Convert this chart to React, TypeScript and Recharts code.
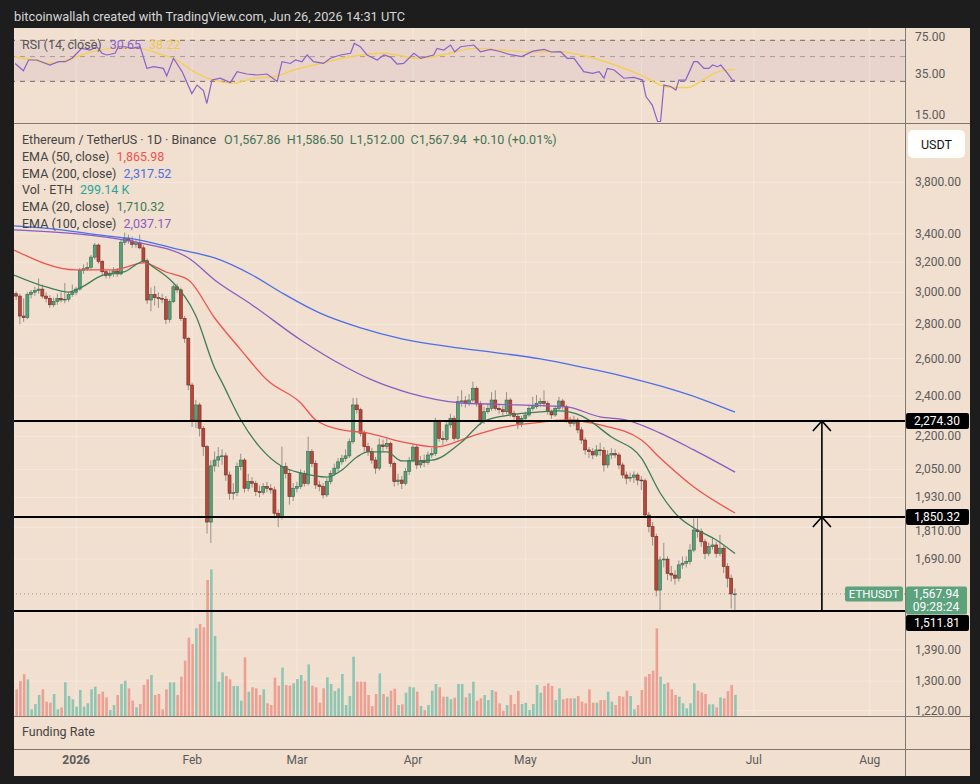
import React from 'react';
import {
  ComposedChart,
  Bar,
  Line,
  XAxis,
  YAxis,
  CartesianGrid,
  ReferenceLine,
  ReferenceArea,
  ReferenceDot,
  Cell,
} from 'recharts';

// day 0 = 1 Jan 2026, first candle is 16 Dec 2025
const FIRST_DAY = -16;
const X_DOMAIN: [number, number] = [-16.6, 221.4];

const opens = [
  2990, 2975, 2850, 2840, 2985, 3000, 3010, 3020, 2975, 2960,
  2920, 2940, 2960, 2950, 2955, 2985, 3000, 3020, 3145, 3155,
  3165, 3235, 3320, 3205, 3135, 3110, 3125, 3140, 3120, 3340,
  3370, 3350, 3325, 3335, 3300, 3210, 2950, 2985, 2965, 2960,
  2955, 2830, 2940, 3035, 3015, 2835, 2717, 2457, 2279, 2354,
  2239, 2152, 1830, 2065, 2091, 2106, 2110, 2025, 1947, 1950,
  2062, 2091, 1968, 1996, 1989, 1954, 1950, 1975, 1968, 1961,
  1865, 1850, 2062, 2032, 1933, 1968, 1975, 2032, 1989, 2129,
  2076, 1982, 1975, 1940, 1996, 2032, 2055, 2083, 2098, 2110,
  2175, 2354, 2330, 2215, 2152, 2129, 2091, 2055, 2160, 2152,
  2167, 2076, 1996, 2003, 1989, 2040, 2090, 2150, 2069, 2084,
  2080, 2114, 2121, 2271, 2191, 2185, 2255, 2287, 2191, 2371,
  2375, 2362, 2379, 2440, 2362, 2271, 2320, 2337, 2379, 2337,
  2330, 2320, 2379, 2312, 2296, 2263, 2287, 2304, 2337, 2345,
  2362, 2371, 2362, 2320, 2304, 2337, 2374, 2345, 2279, 2263,
  2279, 2231, 2183, 2137, 2129, 2114, 2137, 2135, 2069, 2114,
  2120, 2114, 2069, 2025, 2011, 2015, 2025, 2003, 2000, 1858,
  1812, 1774, 1581, 1687, 1690, 1639, 1633, 1622, 1669, 1675,
  1681, 1723, 1799, 1793, 1754, 1711, 1736, 1742, 1711, 1730,
  1663, 1622, 1567.86,
];

const highs = [
  3005, 2990, 2960, 3000, 3015, 3035, 3090, 3050, 3000, 2980,
  2965, 2990, 3000, 3060, 2998, 3050, 3035, 3160, 3185, 3200,
  3250, 3335, 3330, 3215, 3150, 3145, 3165, 3160, 3360, 3410,
  3395, 3380, 3355, 3395, 3320, 3225, 3030, 3040, 3000, 2990,
  2975, 2955, 3050, 3055, 3030, 2850, 2725, 2470, 2380, 2365,
  2250, 2160, 2090, 2130, 2150, 2140, 2125, 2040, 1990, 2080,
  2120, 2100, 2030, 2015, 2000, 1980, 1990, 1995, 1985, 1975,
  1880, 2152, 2080, 2045, 1990, 1995, 2050, 2045, 2199, 2140,
  2090, 2000, 1990, 2010, 2045, 2075, 2100, 2115, 2140, 2190,
  2390, 2390, 2340, 2230, 2170, 2145, 2105, 2190, 2185, 2190,
  2175, 2085, 2030, 2020, 2055, 2105, 2165, 2160, 2110, 2115,
  2130, 2145, 2290, 2280, 2225, 2275, 2310, 2300, 2400, 2430,
  2400, 2410, 2475, 2450, 2375, 2345, 2360, 2420, 2430, 2360,
  2350, 2420, 2390, 2325, 2310, 2300, 2320, 2355, 2395, 2405,
  2390, 2430, 2375, 2330, 2350, 2395, 2385, 2355, 2295, 2300,
  2290, 2245, 2195, 2150, 2145, 2160, 2170, 2150, 2135, 2145,
  2140, 2125, 2080, 2040, 2035, 2040, 2035, 2020, 2010, 1870,
  1830, 1785, 1700, 1750, 1700, 1665, 1650, 1685, 1700, 1700,
  1745, 1845, 1845, 1805, 1765, 1750, 1770, 1755, 1780, 1740,
  1675, 1635, 1586.5,
];

const lows = [
  2950, 2800, 2815, 2830, 2960, 2975, 2990, 2960, 2935, 2900,
  2905, 2920, 2935, 2930, 2940, 2970, 2980, 3010, 3120, 3140,
  3150, 3220, 3190, 3105, 3090, 3090, 3100, 3100, 3110, 3320,
  3330, 3300, 3300, 3290, 3195, 2925, 2880, 2915, 2900, 2930,
  2800, 2810, 2930, 2995, 2820, 2690, 2430, 2245, 2240, 2200,
  2110, 1785, 1750, 2040, 2060, 2070, 2000, 1920, 1920, 1935,
  2045, 1950, 1955, 1970, 1935, 1930, 1940, 1950, 1945, 1845,
  1810, 1840, 2010, 1900, 1915, 1950, 1965, 1975, 1980, 2060,
  1965, 1955, 1925, 1930, 1985, 2020, 2040, 2070, 2085, 2100,
  2165, 2310, 2200, 2130, 2110, 2075, 2030, 2045, 2130, 2140,
  2060, 1975, 1980, 1965, 1980, 2025, 2080, 2050, 2055, 2060,
  2070, 2100, 2110, 2175, 2160, 2175, 2240, 2180, 2185, 2345,
  2340, 2350, 2370, 2345, 2255, 2260, 2310, 2325, 2325, 2310,
  2300, 2310, 2295, 2270, 2235, 2245, 2275, 2295, 2325, 2335,
  2345, 2345, 2305, 2285, 2295, 2325, 2330, 2265, 2245, 2250,
  2215, 2165, 2115, 2100, 2095, 2105, 2110, 2040, 2055, 2095,
  2100, 2050, 2010, 1985, 1995, 1990, 1980, 1960, 1845, 1790,
  1740, 1560, 1512, 1660, 1615, 1610, 1600, 1610, 1655, 1660,
  1670, 1715, 1770, 1735, 1690, 1700, 1725, 1695, 1700, 1640,
  1590, 1520, 1512,
];

const closes = [
  2975, 2850, 2840, 2985, 3000, 3010, 3020, 2975, 2960, 2920,
  2940, 2960, 2950, 2955, 2985, 3000, 3020, 3145, 3155, 3165,
  3235, 3320, 3205, 3135, 3110, 3125, 3140, 3120, 3340, 3370,
  3350, 3325, 3335, 3300, 3210, 2950, 2985, 2965, 2960, 2955,
  2830, 2940, 3035, 3015, 2835, 2717, 2457, 2279, 2354, 2239,
  2152, 1830, 2065, 2091, 2106, 2110, 2025, 1947, 1950, 2062,
  2091, 1968, 1996, 1989, 1954, 1950, 1975, 1968, 1961, 1865,
  1850, 2062, 2032, 1933, 1968, 1975, 2032, 1989, 2129, 2076,
  1982, 1975, 1940, 1996, 2032, 2055, 2083, 2098, 2110, 2175,
  2354, 2330, 2215, 2152, 2129, 2091, 2055, 2160, 2152, 2167,
  2076, 1996, 2003, 1989, 2040, 2090, 2150, 2069, 2084, 2080,
  2114, 2121, 2271, 2191, 2185, 2255, 2287, 2191, 2371, 2375,
  2362, 2379, 2440, 2362, 2271, 2320, 2337, 2379, 2337, 2330,
  2320, 2379, 2312, 2296, 2263, 2287, 2304, 2337, 2345, 2362,
  2371, 2362, 2320, 2304, 2337, 2374, 2345, 2279, 2263, 2279,
  2231, 2183, 2137, 2129, 2114, 2137, 2135, 2069, 2114, 2120,
  2114, 2069, 2025, 2011, 2015, 2025, 2003, 2000, 1858, 1812,
  1774, 1581, 1687, 1690, 1639, 1633, 1622, 1669, 1675, 1681,
  1723, 1799, 1793, 1754, 1711, 1736, 1742, 1711, 1730, 1663,
  1622, 1568, 1567.94,
];

// volume in thousands of ETH
const volumes = [
  378, 497, 591, 520, 95, 170, 298, 378, 203, 189,
  312, 95, 123, 478, 284, 237, 132, 369, 132, 180,
  378, 416, 312, 345, 265, 85, 156, 298, 454, 501,
  393, 218, 123, 170, 440, 520, 582, 298, 312, 95,
  378, 478, 478, 298, 558, 785, 1112, 1022, 1244, 1305,
  1258, 1930, 2081, 1135, 487, 620, 568, 520, 426, 426,
  218, 832, 345, 407, 393, 298, 378, 180, 156, 544,
  430, 686, 440, 430, 464, 525, 582, 501, 733, 430,
  407, 189, 393, 549, 454, 355, 393, 596, 156, 284,
  842, 487, 487, 487, 298, 142, 312, 605, 312, 274,
  359, 388, 156, 166, 331, 416, 407, 345, 142, 85,
  156, 359, 454, 407, 274, 274, 237, 260, 454, 454,
  265, 322, 487, 218, 251, 298, 227, 369, 345, 180,
  76, 156, 298, 170, 355, 170, 189, 85, 170, 440,
  331, 426, 464, 426, 227, 393, 237, 251, 251, 251,
  284, 203, 180, 378, 189, 189, 227, 227, 345, 203,
  156, 284, 274, 359, 284, 95, 156, 369, 558, 596,
  643, 1244, 558, 454, 473, 378, 298, 274, 180, 109,
  180, 464, 359, 336, 312, 166, 166, 123, 265, 251,
  355, 440, 299.14,
];

// moving averages as [day, value]
const ema20Pts = [
  [-16.6, 3113], [-8, 3034], [-2, 3001], [1, 3027], [7, 3110], [13, 3135], [18, 3205],
  [21, 3160], [26, 3060], [32, 2850], [37, 2549], [39, 2470], [44, 2279], [49, 2151],
  [55, 2062], [60, 2034], [67, 2016], [71, 2047], [75, 2105], [78, 2128], [83, 2128],
  [87, 2087], [95, 2091], [103, 2174], [109, 2274], [116, 2304], [124, 2319], [129, 2324],
  [135, 2299], [143, 2197], [151, 2100], [156, 1948], [161, 1850], [165, 1807], [171, 1761],
  [176, 1710.32],
];
const ema50Pts = [
  [-16.6, 3285], [0, 3147], [10, 3147], [18, 3195], [24, 3133], [30, 3080], [37, 2838],
  [44, 2650], [51, 2484], [60, 2364], [64, 2279], [71, 2231], [78, 2216], [87, 2174],
  [96, 2151], [105, 2197], [113, 2240], [122, 2264], [131, 2279], [140, 2255], [151, 2183],
  [156, 2100], [165, 1973], [176, 1865.98],
];
const ema100Pts = [
  [-16.6, 3430], [17, 3335], [30, 3229], [37, 3080], [47, 2919], [60, 2707], [71, 2565],
  [79, 2484], [89, 2415], [103, 2364], [118, 2354], [131, 2344], [140, 2294], [147, 2279],
  [156, 2216], [165, 2137], [176, 2037.17],
];
const ema200Pts = [
  [-16.6, 3459], [-4, 3430], [6, 3393], [17, 3356], [28, 3285], [37, 3229], [47, 3113],
  [55, 2995], [65, 2869], [76, 2778], [87, 2713], [100, 2667], [113, 2632], [124, 2599],
  [135, 2554], [146, 2505], [156, 2452], [167, 2384], [176, 2317.52],
];

const rsiPts = [
  [-16.3, 43.4], [-14.1, 37.3], [-12.7, 46.6], [-10.5, 46.6], [-7, 42], [-4.7, 45], [-2.9, 45],
  [-1.1, 48.3], [0.6, 55.3], [1.5, 59.3], [3.7, 57.3], [5.5, 61.3], [6.9, 53.6], [8.2, 51.7],
  [10.4, 53.6], [11.3, 61.3], [13.1, 61.3], [14.9, 59.3], [17.1, 61.3], [18.9, 39.2],
  [20.7, 40.6], [23.3, 39.2], [24.2, 33.6], [26, 48.3], [28.3, 36.7], [30.9, 23.3],
  [32.3, 27.8], [34, 24.8], [34.9, 19], [36.3, 30.8], [38.5, 32], [41.2, 29.2], [43, 36.7],
  [45.6, 34.9], [48.3, 34.2], [51, 34.9], [53.7, 29.9], [55, 45], [57.2, 43.4], [58.6, 46.6],
  [60.3, 45], [61.7, 51.7], [63.4, 45], [66.1, 43.4], [67.9, 48.3], [70.6, 51.7], [73.3, 53.6],
  [74.3, 65.6], [75.9, 61.3], [77.7, 51.7], [80.4, 46.6], [82.2, 51.7], [84, 49.5],
  [85.7, 42.9], [87.5, 43.4], [90.2, 53.6], [92, 48.3], [95.5, 51.7], [96.4, 59.3],
  [98.2, 57.3], [100, 63.5], [101.1, 55.3], [102.7, 61.3], [106.2, 63.5], [108, 55.3],
  [110.7, 58.1], [113.4, 55.3], [116, 52], [119, 50], [122, 56], [125, 58], [127, 55],
  [129.4, 55.3], [131.2, 48.3], [133, 48.3], [135.6, 36.7], [137.9, 35.4], [139.7, 36.7],
  [141, 32], [141.9, 39.2], [143.7, 37.9], [146.3, 32], [149, 32.6], [151.3, 30.8],
  [152.2, 21.9], [153.9, 18.4], [155.3, 13.1], [156.1, 13.1], [157, 27.8], [158.8, 27],
  [160.2, 25.1], [161, 30.8], [162.8, 30.8], [165, 45], [166, 45], [167.7, 39.2], [169, 39.2],
  [170, 42], [171.3, 40.6], [172.2, 42], [174, 35.4], [175.3, 30.8], [176, 30.65],
];
const rsiMaPts = [
  [-16.3, 49.9], [-11.4, 46.6], [-7, 43.4], [-2.5, 46.6], [2.9, 53.6], [10, 59.3], [17.1, 59.3],
  [21.6, 53.6], [26.9, 46.6], [31.4, 36.7], [36.7, 30.8], [42.1, 28.9], [47.4, 32],
  [52.8, 33], [58.1, 37.9], [65.2, 43.4], [73.3, 49.9], [82.2, 53.6], [91.1, 48.3],
  [100, 53.6], [106.2, 59.3], [113.4, 57.3], [121, 55], [129.4, 55.3], [134.8, 51.7],
  [142.8, 43.4], [151.7, 33], [156.1, 27.8], [159.7, 26.4], [163.3, 26.4], [166.8, 29.9],
  [170.4, 35.4], [174, 38], [176, 38.22],
];

const monthTicks = [0, 31, 59, 90, 120, 151, 181, 212];
const monthLabels = ['2026', 'Feb', 'Mar', 'Apr', 'May', 'Jun', 'Jul', 'Aug'];
const priceTicks = [3800, 3400, 3200, 3000, 2800, 2600, 2400, 2200, 2050, 1930, 1810, 1690, 1390, 1300, 1220];
const rsiTicks = [75, 35, 15];
const levelPrices = [2274.3, 1850.32, 1511.81];
const lastPrice = 1567.94;
const arrowDay = 199.2;

const BG = '#f1dfcf';
const FRAME = '#1d1d1d';
const SEP = '#7d7770';
const AXIS_TEXT = '#5b5b5b';
const UP = '#5c9e78';
const UP_EDGE = '#2f6d4b';
const DOWN = '#b6473b';
const DOWN_EDGE = '#772a21';
const WICK = '#96918c';
const GREEN_LABEL = '#5ca27d';
const FONT = 'Roboto, "Noto Sans", sans-serif';

const candles = opens.map((open, i) => ({
  day: FIRST_DAY + i,
  open,
  high: highs[i],
  low: lows[i],
  close: closes[i],
  vol: volumes[i],
}));

const toPts = (pts: number[][]) => pts.map(([day, v]) => ({ day, v }));
const fmt = (v: number) => v.toLocaleString('en-US', { minimumFractionDigits: 2, maximumFractionDigits: 2 });

const Candle = (props: any) => {
  const { x, y, width, height, payload } = props;
  const { open, close, high, low } = payload;
  const top = Math.min(y, y + height);
  const h = Math.abs(height);
  const cx = x + width / 2;
  const span = Math.log(high) - Math.log(low) || 1;
  const toY = (p: number) => top + (h * (Math.log(high) - Math.log(p))) / span;
  const up = close >= open;
  const bTop = toY(Math.max(open, close));
  const bBot = toY(Math.min(open, close));
  return (
    <g>
      <line x1={cx} x2={cx} y1={top} y2={top + h} stroke={WICK} strokeWidth={1} />
      <rect
        x={cx - 1.5}
        y={bTop}
        width={3}
        height={Math.max(bBot - bTop, 0.8)}
        fill={up ? UP : DOWN}
        stroke={up ? UP_EDGE : DOWN_EDGE}
        strokeWidth={0.6}
      />
    </g>
  );
};

// price tick; the 1,810 label sits just under the 1,850.32 level box
const PriceTick = (props: any) => {
  const { x, y, payload } = props;
  const dy = payload.value === 1810 ? 4 : 0;
  return (
    <text x={x} y={y + dy} dominantBaseline="central" fill={AXIS_TEXT} fontSize={12} fontFamily={FONT}>
      {fmt(payload.value)}
    </text>
  );
};

const levelLabel = (text: string, dy: number) => (props: any) => {
  const { x, y, width } = props.viewBox;
  const bx = x + width + 1;
  return (
    <g>
      <rect x={bx} y={y - 8 + dy} width={63} height={16} rx={2} fill="#000" />
      <text x={bx + 31} y={y + dy} textAnchor="middle" dominantBaseline="central" fill="#fff" fontSize={12} fontFamily={FONT}>
        {text}
      </text>
    </g>
  );
};

const lastPriceLabel = (props: any) => {
  const { x, y, width } = props.viewBox;
  const right = x + width;
  return (
    <g fontFamily={FONT}>
      <rect x={right - 60} y={y - 7.5} width={58} height={15} rx={2} fill={GREEN_LABEL} />
      <text x={right - 31} y={y} textAnchor="middle" dominantBaseline="central" fill="#fff" fontSize={11.5}>
        ETHUSDT
      </text>
      <rect x={right + 1} y={y - 7.5} width={61} height={28} rx={2} fill={GREEN_LABEL} />
      <text x={right + 31} y={y} textAnchor="middle" dominantBaseline="central" fill="#fff" fontSize={12}>
        {fmt(lastPrice)}
      </text>
      <text x={right + 31} y={y + 13.5} textAnchor="middle" dominantBaseline="central" fill="#fff" fontSize={12}>
        09:28:24
      </text>
    </g>
  );
};

const Chevron = (props: any) => {
  const { cx, cy } = props;
  return (
    <polyline
      points={`${cx - 9},${cy + 10} ${cx},${cy} ${cx + 9},${cy + 10}`}
      fill="none"
      stroke="#000"
      strokeWidth={1.6}
    />
  );
};

const MonthTick = (props: any) => {
  const { x, y, payload } = props;
  const i = monthTicks.indexOf(payload.value);
  return (
    <text
      x={x}
      y={y + 36}
      textAnchor="middle"
      dominantBaseline="central"
      fill={AXIS_TEXT}
      fontSize={12}
      fontWeight={i === 0 ? 700 : 400}
      fontFamily={FONT}
    >
      {monthLabels[i]}
    </text>
  );
};

const Sep = ({ left, top, width, height }: { left: number; top: number; width: number; height: number }) => (
  <div style={{ position: 'absolute', left, top, width, height, background: SEP }} />
);

export default function App() {
  const legend = [
    { name: 'EMA (50, close)', value: '1,865.98', color: '#ef5350' },
    { name: 'EMA (200, close)', value: '2,317.52', color: '#4c6fe8' },
    { name: 'Vol · ETH', value: '299.14 K', color: '#26a69a' },
    { name: 'EMA (20, close)', value: '1,710.32', color: '#3d7d5a' },
    { name: 'EMA (100, close)', value: '2,037.17', color: '#8a5cc4' },
  ];

  return (
    <div style={{ position: 'absolute', left: 0, top: 0, width: 980, height: 784, background: FRAME, fontFamily: FONT, overflow: 'hidden' }}>
      <div style={{ position: 'absolute', left: 14, top: 8, fontSize: 12.8, color: '#d6d6d6', lineHeight: '18px' }}>
        bitcoinwallah created with TradingView.com, Jun 26, 2026 14:31 UTC
      </div>
      <div style={{ position: 'absolute', left: 14, top: 28, width: 956, height: 748, background: BG }} />

      {/* RSI pane */}
      <div style={{ position: 'absolute', left: 14, top: 29 }}>
        <ComposedChart width={956} height={94} margin={{ top: 0, right: 0, bottom: 0, left: 0 }}>
          <CartesianGrid horizontal={false} stroke="#f6e9de" />
          <XAxis type="number" dataKey="day" domain={X_DOMAIN} ticks={monthTicks} hide allowDataOverflow />
          <YAxis
            orientation="right"
            scale="log"
            domain={[12.7, 88.4]}
            ticks={rsiTicks}
            allowDataOverflow
            width={65}
            axisLine={false}
            tickLine={false}
            tickMargin={4}
            tick={{ fill: AXIS_TEXT, fontSize: 12, fontFamily: FONT }}
            tickFormatter={(v: number) => v.toFixed(2)}
          />
          <ReferenceArea y1={30} y2={70} fill="#7e57c2" fillOpacity={0.08} stroke="none" />
          <ReferenceLine y={70} stroke="#6f6a66" strokeDasharray="5 5" />
          <ReferenceLine y={50} stroke="#a59c94" strokeDasharray="5 5" />
          <ReferenceLine y={30} stroke="#6f6a66" strokeDasharray="5 5" />
          <Line data={toPts(rsiMaPts)} dataKey="v" type="monotone" stroke="#f5cf55" strokeWidth={1.4} dot={false} isAnimationActive={false} />
          <Line data={toPts(rsiPts)} dataKey="v" type="linear" stroke="#8a62c9" strokeWidth={1.2} dot={false} isAnimationActive={false} />
        </ComposedChart>
      </div>
      <div style={{ position: 'absolute', left: 22, top: 37, fontSize: 12.5, lineHeight: '16px', whiteSpace: 'nowrap' }}>
        <span style={{ color: '#555' }}>RSI (14, close)</span>
        <span style={{ color: '#8a62c9', marginLeft: 8 }}>30.65</span>
        <span style={{ color: '#f1c84f', marginLeft: 8 }}>38.22</span>
      </div>

      {/* volume layer */}
      <div style={{ position: 'absolute', left: 14, top: 124 }}>
        <ComposedChart width={956} height={592} data={candles} margin={{ top: 0, right: 65, bottom: 0, left: 0 }}>
          <XAxis type="number" dataKey="day" domain={X_DOMAIN} ticks={monthTicks} hide allowDataOverflow />
          <YAxis yAxisId="price" scale="log" domain={[1206, 4307]} ticks={priceTicks} hide allowDataOverflow />
          <YAxis yAxisId="vol" domain={[0, 8400]} hide />
          <CartesianGrid yAxisId="price" stroke="#f6e9de" />
          <Bar yAxisId="vol" dataKey="vol" barSize={2.6} isAnimationActive={false}>
            {candles.map((c) => (
              <Cell key={c.day} fill={c.close >= c.open ? '#8fc6b3' : '#ee9f93'} />
            ))}
          </Bar>
        </ComposedChart>
      </div>

      {/* price layer */}
      <div style={{ position: 'absolute', left: 14, top: 124 }}>
        <ComposedChart width={956} height={651} data={candles} margin={{ top: 0, right: 0, bottom: 0, left: 0 }}>
          <XAxis
            type="number"
            dataKey="day"
            domain={X_DOMAIN}
            ticks={monthTicks}
            allowDataOverflow
            height={59}
            axisLine={false}
            tickLine={false}
            tick={<MonthTick />}
          />
          <YAxis
            yAxisId="price"
            orientation="right"
            scale="log"
            domain={[1206, 4307]}
            ticks={priceTicks}
            allowDataOverflow
            width={65}
            axisLine={false}
            tickLine={false}
            tickMargin={4}
            tick={<PriceTick />}
          />
          <ReferenceLine yAxisId="price" y={lastPrice} stroke="#9c958f" strokeDasharray="1 3" />
          <Line yAxisId="price" data={toPts(ema200Pts)} dataKey="v" type="monotone" stroke="#4c6fe8" strokeWidth={1.3} dot={false} isAnimationActive={false} />
          <Line yAxisId="price" data={toPts(ema100Pts)} dataKey="v" type="monotone" stroke="#8a5cc4" strokeWidth={1.3} dot={false} isAnimationActive={false} />
          <Line yAxisId="price" data={toPts(ema50Pts)} dataKey="v" type="monotone" stroke="#ef5350" strokeWidth={1.3} dot={false} isAnimationActive={false} />
          <Bar
            yAxisId="price"
            dataKey={(d: any) => [d.low, d.high]}
            barSize={3}
            shape={<Candle />}
            isAnimationActive={false}
          />
          <Line yAxisId="price" data={toPts(ema20Pts)} dataKey="v" type="monotone" stroke="#3d7d5a" strokeWidth={1.3} dot={false} isAnimationActive={false} />
          <ReferenceLine yAxisId="price" y={levelPrices[0]} stroke="#000" strokeWidth={2} label={levelLabel(fmt(levelPrices[0]), 0)} />
          <ReferenceLine yAxisId="price" y={levelPrices[1]} stroke="#000" strokeWidth={2} label={levelLabel(fmt(levelPrices[1]), 0)} />
          <ReferenceLine yAxisId="price" y={levelPrices[2]} stroke="#000" strokeWidth={2} label={levelLabel(fmt(levelPrices[2]), 12)} />
          <ReferenceLine yAxisId="price" y={lastPrice} stroke="none" label={lastPriceLabel} />
          <ReferenceLine
            yAxisId="price"
            segment={[{ x: arrowDay, y: levelPrices[2] }, { x: arrowDay, y: levelPrices[0] }]}
            stroke="#000"
            strokeWidth={1.6}
          />
          <ReferenceDot yAxisId="price" x={arrowDay} y={levelPrices[1]} r={0} shape={<Chevron />} />
          <ReferenceDot yAxisId="price" x={arrowDay} y={levelPrices[0]} r={0} shape={<Chevron />} />
        </ComposedChart>
      </div>

      {/* legend of the main pane */}
      <div style={{ position: 'absolute', left: 22, top: 132, fontSize: 12.5, lineHeight: '16.8px', whiteSpace: 'nowrap' }}>
        <div>
          <span style={{ color: '#444' }}>Ethereum / TetherUS · 1D · Binance</span>
          <span style={{ color: '#3f7556', marginLeft: 8 }}>
            O1,567.86&nbsp;&nbsp;H1,586.50&nbsp;&nbsp;L1,512.00&nbsp;&nbsp;C1,567.94&nbsp;&nbsp;+0.10 (+0.01%)
          </span>
        </div>
        {legend.map((l) => (
          <div key={l.name}>
            <span style={{ color: '#444' }}>{l.name}</span>
            <span style={{ color: l.color, marginLeft: 7 }}>{l.value}</span>
          </div>
        ))}
      </div>

      <div
        style={{
          position: 'absolute',
          left: 908,
          top: 130,
          width: 57,
          height: 28,
          background: '#fff',
          borderRadius: 5,
          fontSize: 12.5,
          color: '#131313',
          display: 'flex',
          alignItems: 'center',
          justifyContent: 'center',
        }}
      >
        USDT
      </div>

      <div style={{ position: 'absolute', left: 22, top: 724, fontSize: 12.5, color: '#444', lineHeight: '16px' }}>Funding Rate</div>

      <Sep left={14} top={123} width={956} height={1} />
      <Sep left={14} top={716} width={956} height={1} />
      <Sep left={14} top={749} width={956} height={1} />
      <Sep left={905} top={28} width={1} height={748} />
    </div>
  );
}
